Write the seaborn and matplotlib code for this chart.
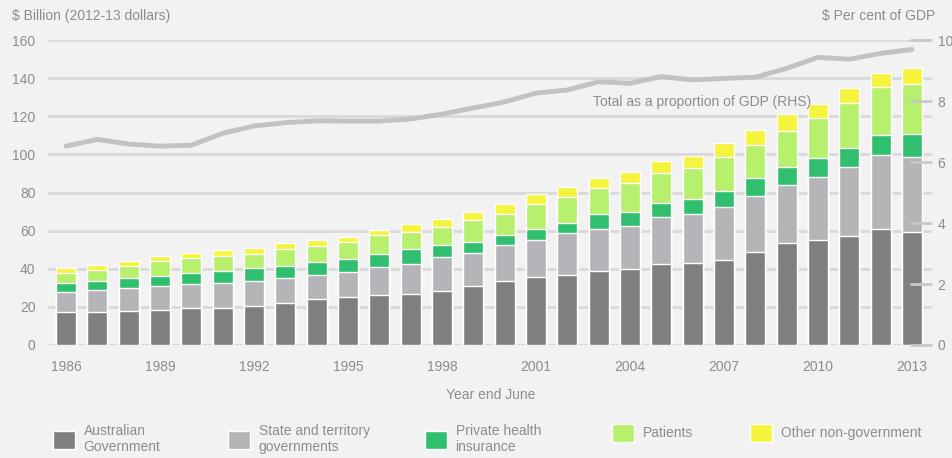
import numpy as np
import pandas as pd
import matplotlib
matplotlib.use("Agg")
import matplotlib.pyplot as plt
import seaborn as sns

# Health expenditure by source of funds, $ billion (2012-13 dollars)
years = list(range(1986, 2014))
aus_gov = [17.2, 17.5, 17.8, 18.4, 19.3, 19.6, 20.6, 22.0, 24.1, 25.0, 26.4, 26.6, 28.3, 31.0,
           33.4, 35.8, 36.7, 38.8, 39.9, 42.3, 42.9, 44.6, 49.0, 53.4, 55.1, 57.3, 61.1, 59.3]
state_gov = [10.4, 11.4, 11.9, 12.6, 12.9, 13.1, 13.1, 13.3, 12.8, 13.5, 14.4, 15.9, 17.7, 17.1,
             19.1, 19.3, 21.9, 22.2, 22.7, 24.7, 25.8, 28.0, 29.2, 30.5, 33.2, 36.2, 38.6, 39.5]
private_ins = [4.8, 4.8, 5.3, 5.4, 5.7, 6.3, 6.5, 6.3, 6.8, 6.6, 6.9, 7.9, 6.5, 6.1,
               5.1, 5.8, 5.3, 7.6, 7.3, 7.7, 7.9, 8.4, 9.3, 9.6, 9.7, 10.0, 10.5, 11.7]
patients = [5.4, 5.6, 6.4, 7.7, 7.6, 7.7, 7.5, 8.8, 8.4, 8.8, 10.0, 9.0, 9.6, 11.4,
            11.1, 13.1, 13.9, 13.6, 14.9, 15.7, 16.4, 17.5, 17.4, 18.9, 21.3, 23.3, 25.3, 26.3]
other_nongov = [2.4, 2.7, 2.7, 2.6, 2.9, 3.1, 3.0, 3.3, 3.0, 2.9, 2.6, 4.1, 4.0, 4.3,
                5.1, 5.2, 5.3, 5.6, 6.1, 6.3, 6.3, 7.3, 7.9, 8.8, 7.1, 7.9, 7.4, 8.4]
# Total health expenditure as a per cent of GDP (right-hand scale)
gdp_share = [6.52, 6.74, 6.59, 6.52, 6.55, 6.94, 7.18, 7.29, 7.35, 7.34, 7.34, 7.41, 7.57, 7.77,
             7.97, 8.26, 8.36, 8.63, 8.58, 8.80, 8.69, 8.74, 8.78, 9.07, 9.43, 9.37, 9.56, 9.69]

series_labels = ["Australian\nGovernment", "State and territory\ngovernments",
                 "Private health\ninsurance", "Patients", "Other non-government"]
series_values = [aus_gov, state_gov, private_ins, patients, other_nongov]
series_colors = ["#7f7f81", "#b5b5b9", "#2fbf6e", "#b6f06c", "#f4f43c"]

sns.set_theme(style="white")
plt.rcParams["font.family"] = ["Liberation Sans Narrow", "Liberation Sans", "DejaVu Sans"]

BG = "#f2f2f2"
TXT = "#8c8c8c"
GRID = "#d9d9d9"
W, H = 953, 458

fig = plt.figure(figsize=(W / 100, H / 100), dpi=100, facecolor=BG)
ax = fig.add_axes([48 / W, (H - 345) / H, (932 - 48) / W, (345 - 40) / H])
ax.set_facecolor(BG)

df = pd.DataFrame({"year": [str(y) for y in years]})
stacked = np.cumsum(np.array(series_values), axis=0)

# stacked bars: draw running totals from the tallest down
containers = {}
for i in reversed(range(len(series_values))):
    sns.barplot(x=df["year"], y=stacked[i], color=series_colors[i], saturation=1,
                width=0.64, errorbar=None, ax=ax, zorder=2)
    containers[i] = ax.containers[-1]

ax.set_ylim(0, 160)
ax.set_yticks(range(0, 161, 20))
ax.grid(axis="y", color=GRID, lw=2)
ax.grid(axis="x", visible=False)
ax.set_axisbelow(True)
for s in ax.spines.values():
    s.set_visible(False)
ax.set_xticks(range(0, len(years), 3))
ax.set_xticklabels([str(y) for y in years[::3]])
ax.tick_params(axis="x", length=0, pad=11, labelsize=10, labelcolor=TXT)
ax.tick_params(axis="y", length=0, pad=9, labelsize=10, labelcolor=TXT)
ax.set_xlabel("")
ax.set_ylabel("")

ax2 = ax.twinx()
sns.lineplot(x=np.arange(len(years)), y=gdp_share, ax=ax2, color="#c2c2c2", lw=3.5, zorder=3)
ax2.set_ylim(0, 10)
ax2.set_yticks(range(0, 11, 2))
ax2.tick_params(axis="y", direction="in", length=16, width=2, color="#c8c8c8",
                pad=4, labelsize=10, labelcolor=TXT)
for s in ax2.spines.values():
    s.set_visible(False)
ax2.set_ylabel("")
ax.set_xlim(-0.574, 27.64)

ax2.text(16.82, 7.97, "Total as a proportion of GDP (RHS)", fontsize=10, color=TXT,
         va="center", ha="left")

fig.text(12 / W, 1 - 16 / H, "$ Billion (2012-13 dollars)", fontsize=10, color=TXT,
         va="center", ha="left")
fig.text(822 / W, 1 - 16 / H, "$ Per cent of GDP", fontsize=10, color=TXT,
         va="center", ha="left")
fig.text(491 / W, 1 - 395 / H, "Year end June", fontsize=10, color=TXT,
         va="center", ha="center")

legend_x = [53, 228, 425, 612, 750]
for i, lx in enumerate(legend_x):
    fig.legend(handles=[containers[i]], labels=[series_labels[i]], loc="upper left",
               bbox_to_anchor=(lx / W, 1 - 424 / H), frameon=False, fontsize=10,
               handlelength=1.6, handleheight=1.6, handletextpad=0.6,
               borderpad=0, borderaxespad=0, labelcolor=TXT, labelspacing=0.1)

fig.savefig("out.png", dpi=100, facecolor=BG)
